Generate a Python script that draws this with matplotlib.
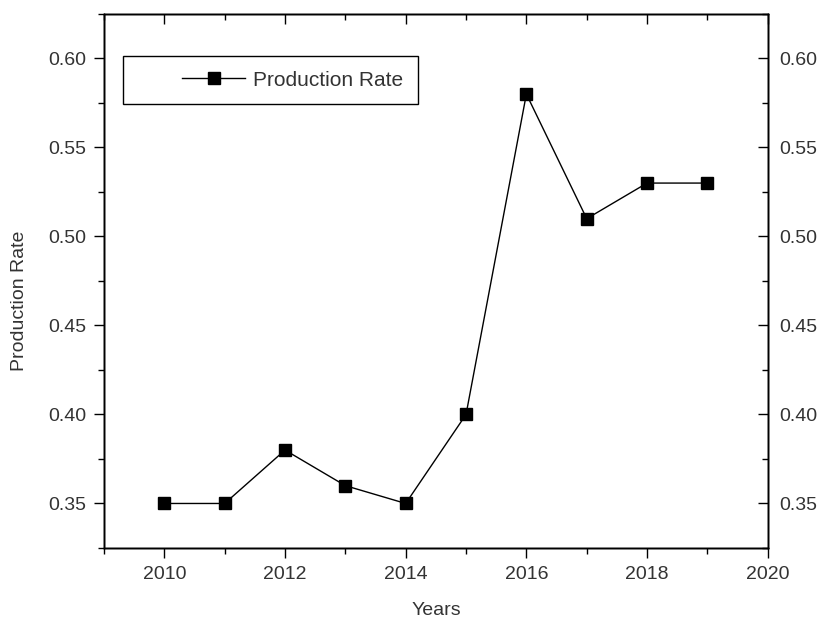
import matplotlib.pyplot as plt
from matplotlib.patches import Rectangle
from matplotlib.ticker import MultipleLocator

years = [2010, 2011, 2012, 2013, 2014, 2015, 2016, 2017, 2018, 2019]
rate = [0.35, 0.35, 0.38, 0.36, 0.35, 0.40, 0.58, 0.51, 0.53, 0.53]

plt.rcParams['font.family'] = ['Liberation Sans', 'DejaVu Sans']
txt = '#333333'

fig = plt.figure(figsize=(8.22, 6.21), dpi=100)
ax = fig.add_axes([0.1265, 0.1176, 0.8075, 0.8599])

ax.plot(years, rate, color='black', lw=1, marker='s', ms=8, label='Production Rate')

ax.set_xlim(2009, 2020)
ax.set_ylim(0.325, 0.625)
ax.xaxis.set_major_locator(MultipleLocator(2))
ax.xaxis.set_minor_locator(MultipleLocator(1))
ax.yaxis.set_major_locator(MultipleLocator(0.05))
ax.yaxis.set_minor_locator(MultipleLocator(0.025))
ax.yaxis.set_major_formatter(lambda v, p: f'{v:.2f}')
ax.tick_params(which='both', direction='out', labelsize=14, labelcolor=txt, width=1)
ax.tick_params(which='major', length=7, pad=6)
ax.tick_params(which='minor', length=4)
ax.set_xlabel('Years', fontsize=14, color=txt, labelpad=14)
ax.set_ylabel('Production Rate', fontsize=14, color=txt)
ax.yaxis.set_label_coords(-0.114, 0.4625)

# right and top: ticks pointing in
axr = ax.twinx()
axr.set_ylim(ax.get_ylim())
axr.yaxis.set_major_locator(MultipleLocator(0.05))
axr.yaxis.set_minor_locator(MultipleLocator(0.025))
axr.yaxis.set_major_formatter(lambda v, p: f'{v:.2f}')
axr.tick_params(which='both', direction='in', labelsize=14, labelcolor=txt, width=1, pad=8)
axr.tick_params(which='major', length=7)
axr.tick_params(which='minor', length=4)

axt = ax.twiny()
axt.set_xlim(ax.get_xlim())
axt.xaxis.set_major_locator(MultipleLocator(2))
axt.xaxis.set_minor_locator(MultipleLocator(1))
axt.tick_params(which='both', direction='in', labeltop=False, width=1)
axt.tick_params(which='major', length=7)
axt.tick_params(which='minor', length=4)

for a in (ax, axr, axt):
    for s in a.spines.values():
        s.set_linewidth(1)

ax.add_patch(Rectangle((0.0286, 0.831), 0.445, 0.09, transform=ax.transAxes,
                       fill=False, edgecolor='black', lw=1, zorder=5))
ax.legend(loc='center left', bbox_to_anchor=(0.1025, 0.876), frameon=False,
          fontsize=15, handlelength=3.0, handletextpad=0.4, labelcolor=txt,
          borderpad=0)

fig.savefig('out.png', dpi=100)
